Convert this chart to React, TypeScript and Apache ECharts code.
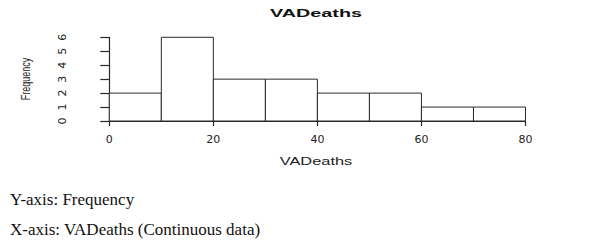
import React, { useEffect, useRef } from "react";
import * as echarts from "echarts";

const binStarts = [0, 10, 20, 30, 40, 50, 60, 70];
const binEnds = [10, 20, 30, 40, 50, 60, 70, 80];
const frequencies = [2, 6, 3, 3, 2, 2, 1, 1];
const xTicks = [0, 20, 40, 60, 80];
const yTicks = [0, 1, 2, 3, 4, 5, 6];
const chartTitle = "VADeaths";
const xName = "VADeaths";
const yName = "Frequency";
const noteLines = ["Y-axis: Frequency", "X-axis: VADeaths (Continuous data)"];

export default function App() {
  const ref = useRef<HTMLDivElement>(null);
  useEffect(() => {
    document.body.style.margin = "0";
    const chart = echarts.init(ref.current!, null, { renderer: "svg" });
    const data = binStarts.map((s, i) => [s, binEnds[i], frequencies[i]]);
    const lineColor = "#2a2a2a";
    chart.setOption({
      animation: false,
      backgroundColor: "#ffffff",
      grid: { left: 109.3, right: 74.5, top: 37.3, bottom: 119, containLabel: false },
      xAxis: {
        type: "value",
        min: xTicks[0],
        max: xTicks[xTicks.length - 1],
        interval: 20,
        offset: 4,
        splitLine: { show: false },
        axisLine: { show: true, lineStyle: { color: lineColor, width: 1.2 } },
        axisTick: { show: true, length: 5, lineStyle: { color: lineColor, width: 1.2 } },
        axisLabel: {
          margin: 9,
          fontFamily: "DejaVu Sans",
          fontSize: 11,
          color: "#222",
          formatter: (v: number) => (xTicks.includes(v) ? String(v) : ""),
        },
      },
      yAxis: {
        type: "value",
        min: yTicks[0],
        max: yTicks[yTicks.length - 1],
        interval: 1,
        offset: 17,
        splitLine: { show: false },
        axisLine: { show: true, lineStyle: { color: lineColor, width: 1.2 } },
        axisTick: { show: true, length: 9, lineStyle: { color: lineColor, width: 1.2 } },
        axisLabel: {
          rotate: 90,
          margin: 24,
          fontFamily: "DejaVu Sans",
          fontSize: 11,
          color: "#222",
        },
      },
      series: [
        {
          type: "custom",
          data,
          renderItem: (params: any, api: any) => {
            const p0 = api.coord([api.value(0), 0]);
            const p1 = api.coord([api.value(1), api.value(2)]);
            return {
              type: "rect",
              shape: { x: p0[0], y: p1[1], width: p1[0] - p0[0], height: p0[1] - p1[1] },
              style: { fill: "#ffffff", stroke: lineColor, lineWidth: 1 },
            };
          },
        },
      ],
      graphic: [
        {
          type: "text",
          x: 316,
          y: 13,
          scaleX: 1.8,
          style: {
            text: chartTitle,
            fontFamily: "Liberation Sans",
            fontWeight: "bold",
            fontSize: 11,
            fill: "#111",
            textAlign: "center",
            textVerticalAlign: "middle",
          },
        },
        {
          type: "text",
          x: 316,
          y: 162,
          scaleX: 1.64,
          style: {
            text: xName,
            fontFamily: "Liberation Sans",
            fontSize: 10,
            fill: "#222",
            textAlign: "center",
            textVerticalAlign: "middle",
          },
        },
        {
          type: "text",
          x: 25,
          y: 79,
          rotation: Math.PI / 2,
          scaleY: 1.4,
          style: {
            text: yName,
            fontFamily: "Liberation Sans",
            fontSize: 9,
            fill: "#222",
            textAlign: "center",
            textVerticalAlign: "middle",
          },
        },
        {
          type: "text",
          x: 10,
          y: 199.5,
          style: {
            text: noteLines[0],
            fontFamily: "Liberation Serif",
            fontSize: 17,
            fill: "#111",
            textAlign: "left",
            textVerticalAlign: "middle",
          },
        },
        {
          type: "text",
          x: 10,
          y: 229.5,
          style: {
            text: noteLines[1],
            fontFamily: "Liberation Serif",
            fontSize: 17,
            fill: "#111",
            textAlign: "left",
            textVerticalAlign: "middle",
          },
        },
      ],
    });
    return () => chart.dispose();
  }, []);
  return <div ref={ref} style={{ width: 600, height: 240 }} />;
}
